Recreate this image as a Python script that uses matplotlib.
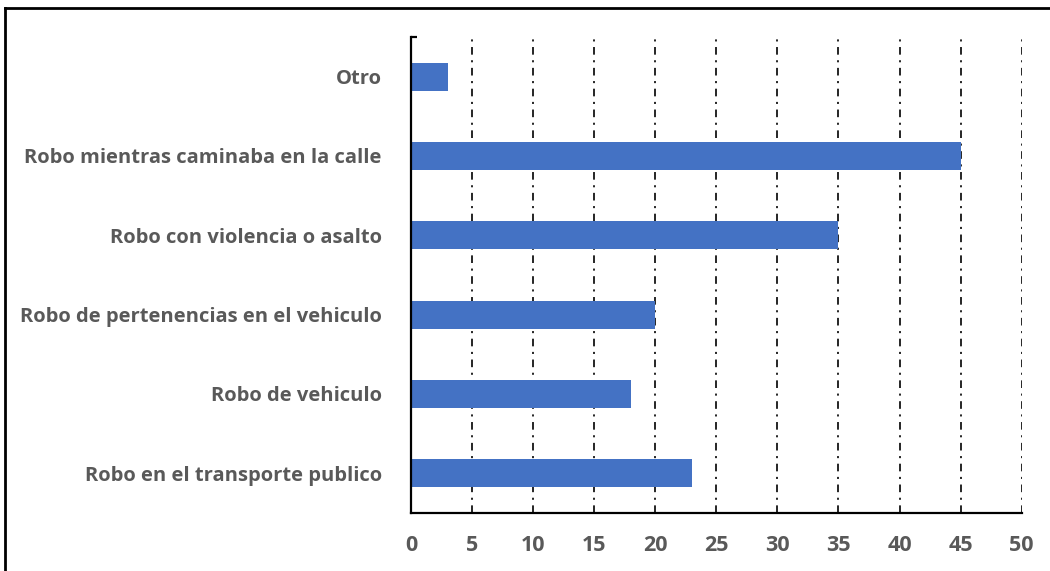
import matplotlib
matplotlib.use("Agg")
from matplotlib import pyplot as plt
from matplotlib.lines import Line2D

categorias = [
    'Robo en el transporte publico',
    'Robo de vehiculo',
    'Robo de pertenencias en el vehiculo',
    'Robo con violencia o asalto',
    'Robo mientras caminaba en la calle',
    'Otro',
]
valores = [23, 18, 20, 35, 45, 3]
marcas_x = [0, 5, 10, 15, 20, 25, 30, 35, 40, 45, 50]

gris = '#595959'
azul = '#4472C4'
plt.rcParams['font.family'] = ['Open Sans', 'DejaVu Sans']
plt.rcParams['lines.scale_dashes'] = False

fig = plt.figure(figsize=(10.5, 5.71), dpi=100)
ax = fig.add_axes([0.3914, 0.1016, 0.5816, 0.8336])

y = list(range(len(categorias)))
ax.barh(y, valores, height=0.35, color=azul, zorder=3)

ax.set_xlim(0, 50)
ax.set_ylim(-0.5, len(categorias) - 0.5)
ax.set_xticks(marcas_x)
ax.set_yticks(y)
ax.set_yticklabels(categorias)

# rejilla vertical punto-raya
ax.xaxis.grid(True, color='black', linewidth=1.2,
              linestyle=(0, (5.5, 4, 1.5, 4)), zorder=1)
ax.set_axisbelow(True)

for lado in ['top', 'right']:
    ax.spines[lado].set_visible(False)
for lado in ['left', 'bottom']:
    ax.spines[lado].set_linewidth(1.6)
    ax.spines[lado].set_color('black')
    ax.spines[lado].set_zorder(4)

ax.tick_params(axis='x', length=0, pad=16, labelsize=15.5, labelcolor=gris)
ax.tick_params(axis='y', direction='in', length=4, width=1.6, pad=21,
               labelsize=14.5, labelcolor=gris)
ax.set_yticks([len(categorias) - 0.5], minor=True)
ax.tick_params(axis='y', which='minor', direction='in', length=4, width=1.6)
for t in ax.get_xticklabels() + ax.get_yticklabels():
    t.set_fontweight('bold')

# marco exterior
fig.add_artist(Line2D([5 / 1050, 1.01], [1 - 8 / 571, 1 - 8 / 571],
                      transform=fig.transFigure, color='black', linewidth=2))
fig.add_artist(Line2D([5 / 1050, 5 / 1050], [1 - 8 / 571, -0.01],
                      transform=fig.transFigure, color='black', linewidth=2))

fig.savefig('out.png', dpi=100)
